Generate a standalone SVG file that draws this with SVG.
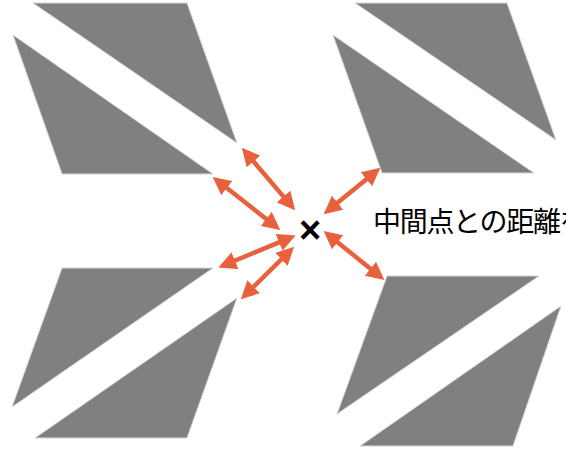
<svg xmlns="http://www.w3.org/2000/svg" width="566" height="450" viewBox="0 0 566 450">
<style>
.s{fill:#808080;stroke:#d6d6d6;stroke-width:1;stroke-linejoin:round}
.a{stroke:#E8603C;stroke-width:4.5;fill:none;marker-start:url(#h);marker-end:url(#h)}
.t{font-family:"Noto Sans CJK JP","Noto Sans",sans-serif;font-size:28px;letter-spacing:-1.3px;fill:#000}
.x{font-family:"Liberation Sans",Arial,sans-serif;font-size:38px;font-weight:bold;fill:#000}
</style>
<defs>
<marker id="h" markerUnits="userSpaceOnUse" markerWidth="18" markerHeight="18" viewBox="0 0 17 17" refX="5" refY="8.5" orient="auto-start-reverse">
<path d="M0,0 L17,8.5 L0,17 z" fill="#E8603C"/>
</marker>
</defs>
<rect width="566" height="450" fill="#fff"/>
<g id="shape-top-left">
<polygon class="s" points="33,3 187,3 237,143"/>
<polygon class="s" points="13,35 62,174 213,174"/>
</g>
<g id="shape-top-right">
<polygon class="s" points="355,3 507,3 556,140"/>
<polygon class="s" points="333,35 382,173 534,173"/>
</g>
<g id="shape-bottom-left">
<polygon class="s" points="62,268 213,268 12,407"/>
<polygon class="s" points="237,298 187,438 35,438"/>
</g>
<g id="shape-bottom-right">
<polygon class="s" points="387,276 539,276 337,414"/>
<polygon class="s" points="561,306 513,446 360,446"/>
</g>
<g id="midpoint">
<text class="x" x="310" y="243" text-anchor="middle">×</text>
</g>
<g id="label">
<text class="t" x="373" y="232">中間点との距離を</text>
</g>
<g id="connectors">
<line class="a" x1="250.1" y1="157.4" x2="286.9" y2="200.6"/>
<line class="a" x1="222.7" y1="184.8" x2="270.3" y2="222.2"/>
<line class="a" x1="230.1" y1="262.7" x2="283.9" y2="240.3"/>
<line class="a" x1="249.9" y1="290.4" x2="285.1" y2="255.6"/>
<line class="a" x1="333.5" y1="206.1" x2="370.5" y2="175.9"/>
<line class="a" x1="333.5" y1="238.9" x2="374.5" y2="272.1"/>
</g>
</svg>
